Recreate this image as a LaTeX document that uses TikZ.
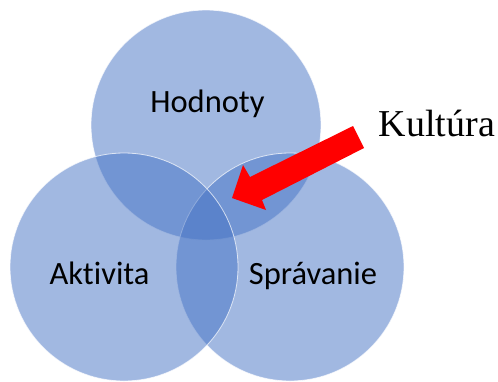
\documentclass[tikz,border=0pt]{standalone}
\usepackage{fontspec}
\usepackage{tikz}
\setmainfont{Carlito}[Ligatures={NoCommon}]
\newfontfamily\serifpismo{Liberation Serif}
\definecolor{kruhmodra}{HTML}{4472C4}

\begin{document}
\begin{tikzpicture}[x=1pt,y=-1pt,
  kruh/.style={fill=kruhmodra, fill opacity=0.5, draw=white, draw opacity=0.7, line width=0.8pt},
  popis/.style={anchor=base, inner sep=0pt, font=\fontsize{32.5}{39}\selectfont}]
\useasboundingbox (0,0) rectangle (498,381);

\filldraw[kruh] (206,125) circle[radius=115];
\filldraw[kruh] (290,267) circle[radius=114];
\filldraw[kruh] (124,267) circle[radius=114];

\node[popis] (hodnoty) at (207.5,112) {Hodnoty};
\node[popis] (aktivita) at (99.5,284) {Aktivita};
\node[popis] (spravanie) at (313,284) {Správanie};
\node[anchor=base, inner sep=0pt, font=\serifpismo\fontsize{38}{45}\selectfont] (kultura) at (437,136) {Kultúra};

% sipka
\fill[red] (353,126) -- (364,148) -- (262,200) -- (266,210) -- (232,198)
  -- (243,165) -- (250,177) -- cycle;

\end{tikzpicture}
\end{document}
